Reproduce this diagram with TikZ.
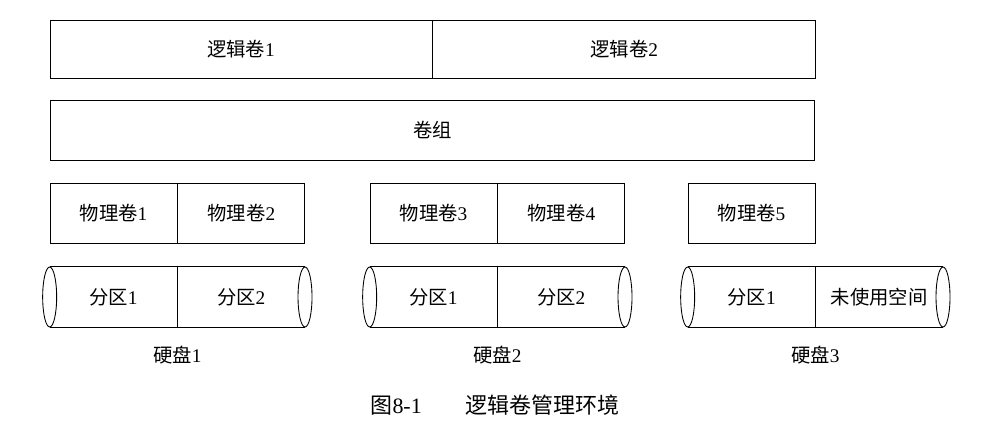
\documentclass[tikz,border=0pt]{standalone}
\usepackage{fontspec}
\setmainfont{Liberation Serif}
\newfontfamily\cjk{Noto Sans CJK SC}
\usetikzlibrary{positioning}
\newcommand{\zh}[1]{{\cjk #1}}
\tikzset{
  cell/.style   ={draw, line width=0.5pt, minimum height=1.2cm, inner sep=0pt,
                  font=\fontsize{11pt}{13pt}\selectfont},
  part/.style   ={minimum width=2.54cm, minimum height=1.2cm, inner sep=0pt,
                  font=\fontsize{11pt}{13pt}\selectfont},
  disklbl/.style={font=\fontsize{11pt}{13pt}\selectfont},
  cyl/.style    ={line width=0.5pt},
}
\begin{document}
\begin{tikzpicture}[x=0.02cm, y=-0.02cm]
\useasboundingbox (0,0) rectangle (1001,434);
% logical volumes
\node[cell, minimum width=7.64cm, minimum height=1.16cm] (lv1) at (241,49) {\zh{逻辑卷}1};
\node[cell, minimum width=7.66cm, minimum height=1.16cm, right=0pt of lv1] (lv2) {\zh{逻辑卷}2};
% volume group
\node[cell, minimum width=15.3cm] (vg) at (432.5,130) {\zh{卷组}};
% physical volumes
\node[cell, minimum width=2.54cm] (pv1) at (113.5,213) {\zh{物理卷}1};
\node[cell, minimum width=2.54cm, right=0pt of pv1] (pv2) {\zh{物理卷}2};
\node[cell, minimum width=2.54cm] (pv3) at (433.5,213) {\zh{物理卷}3};
\node[cell, minimum width=2.54cm, right=0pt of pv3] (pv4) {\zh{物理卷}4};
\node[cell, minimum width=2.54cm] (pv5) at (751.5,213) {\zh{物理卷}5};
% disks
\node[part] (d1a) at (113.5,297) {\zh{分区}1};
\node[part, right=0pt of d1a] (d1b) {\zh{分区}2};
\node[part] (d2a) at (433.5,297) {\zh{分区}1};
\node[part, right=0pt of d2a] (d2b) {\zh{分区}2};
\node[part] (d3a) at (751.5,297) {\zh{分区}1};
\node[part, right=0pt of d3a] (d3b) {\zh{未使用空间}};
\foreach \a/\b in {d1a/d1b,d2a/d2b,d3a/d3b} {
  \draw[cyl] (\a.north west) -- (\b.north east);
  \draw[cyl] (\a.south west) -- (\b.south east);
  \draw[cyl] (\a.north east) -- (\a.south east);
  \draw[cyl] (\a.west) ellipse [x radius=0.14cm, y radius=0.6cm];
  \draw[cyl] (\b.east) ellipse [x radius=0.14cm, y radius=0.6cm];
}
\node[disklbl, below=7pt of d1a.south east] (hd1) {\zh{硬盘}1};
\node[disklbl, below=7pt of d2a.south east] (hd2) {\zh{硬盘}2};
\node[disklbl, below=7pt of d3a.south east] (hd3) {\zh{硬盘}3};
% caption
\node[font=\fontsize{12.5pt}{15pt}\selectfont] (cap) at (495,405) {\zh{图}8-1\hspace{2em}\zh{逻辑卷管理环境}};
\end{tikzpicture}
\end{document}
